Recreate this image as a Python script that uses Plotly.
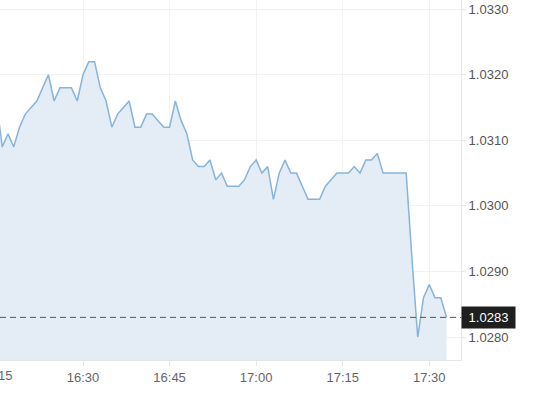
import plotly.graph_objects as go
from datetime import datetime, timedelta

# ---- data (1-minute closes) ----
start_time = "2024-01-01 16:15"
prices = [
    1.0316, 1.0309, 1.0311, 1.0309, 1.0312, 1.0314, 1.0315, 1.0316, 1.0318, 1.0320,  # 16:15-16:24
    1.0316, 1.0318, 1.0318, 1.0318, 1.0316, 1.0320, 1.0322, 1.0322, 1.0318, 1.0316,  # 16:25-16:34
    1.0312, 1.0314, 1.0315, 1.0316, 1.0312, 1.0312, 1.0314, 1.0314, 1.0313, 1.0312,  # 16:35-16:44
    1.0312, 1.0316, 1.0313, 1.0311, 1.0307, 1.0306, 1.0306, 1.0307, 1.0304, 1.0305,  # 16:45-16:54
    1.0303, 1.0303, 1.0303, 1.0304, 1.0306, 1.0307, 1.0305, 1.0306, 1.0301, 1.0305,  # 16:55-17:04
    1.0307, 1.0305, 1.0305, 1.0303, 1.0301, 1.0301, 1.0301, 1.0303, 1.0304, 1.0305,  # 17:05-17:14
    1.0305, 1.0305, 1.0306, 1.0305, 1.0307, 1.0307, 1.0308, 1.0305, 1.0305, 1.0305,  # 17:15-17:24
    1.0305, 1.0305, 1.0292, 1.0280, 1.0286, 1.0288, 1.0286, 1.0286, 1.0283,          # 17:25-17:33
]
x_range = ["2024-01-01 16:15:37", "2024-01-01 17:35:30"]
y_range = [1.02765, 1.03314]
hidden_tick_label = "16:15"

t0 = datetime.strptime(start_time, "%Y-%m-%d %H:%M")
times = [t0 + timedelta(minutes=i) for i in range(len(prices))]
last_price = prices[-1]

FONT = "Liberation Sans, Arial, sans-serif"

fig = go.Figure()
fig.add_trace(go.Scatter(
    x=times, y=prices, mode="lines",
    line=dict(color="#86b4db", width=1.5),
    fill="tozeroy", fillcolor="#e4ecf5",
    hoverinfo="skip",
))

# last-price dashed line
fig.add_shape(type="line", xref="paper", x0=0, x1=1, yref="y", y0=last_price, y1=last_price,
              line=dict(color="#555555", width=1, dash="6px,4px"))

# last-price label box
fig.add_annotation(xref="paper", x=1, yref="y", y=last_price, xanchor="left", yanchor="middle",
                   text=" %.4f " % last_price, showarrow=False,
                   font=dict(family=FONT, size=13, color="white"),
                   bgcolor="#1f1f1f", borderpad=3)

# partially visible tick label at left edge (tick lies just outside the range)
rx0 = datetime.strptime(x_range[0], "%Y-%m-%d %H:%M:%S")
rx1 = datetime.strptime(x_range[1], "%Y-%m-%d %H:%M:%S")
frac = (t0 - rx0).total_seconds() / (rx1 - rx0).total_seconds()
fig.add_annotation(xref="paper", x=frac, yref="paper", y=0, yanchor="top", xanchor="center",
                   yshift=-6, text=hidden_tick_label, showarrow=False,
                   font=dict(family=FONT, size=13, color="#666666"))

fig.update_layout(
    width=536, height=396,
    margin=dict(l=0, r=75, t=0, b=36),
    paper_bgcolor="white", plot_bgcolor="white",
    showlegend=False, hovermode=False,
    font=dict(family=FONT, size=13, color="#666666"),
    xaxis=dict(
        type="date", range=x_range,
        tick0="2024-01-01 16:15", dtick=15 * 60 * 1000, tickformat="%H:%M",
        showgrid=True, gridcolor="#f2f2f2", gridwidth=1,
        showline=True, linecolor="#e6e6e6", linewidth=1,
        ticks="outside", ticklen=5, tickcolor="#e6e6e6",
        tickfont=dict(family=FONT, size=13, color="#666666"),
        zeroline=False, fixedrange=True,
    ),
    yaxis=dict(
        side="right", range=y_range,
        tick0=1.028, dtick=0.001, tickformat=".4f",
        showgrid=True, gridcolor="#f2f2f2", gridwidth=1,
        showline=True, linecolor="#e6e6e6", linewidth=1,
        ticks="outside", ticklen=4, tickcolor="#e6e6e6",
        tickfont=dict(family=FONT, size=13, color="#555555"),
        zeroline=False, fixedrange=True,
    ),
)

fig.write_html("out.html", config={"displayModeBar": False})
